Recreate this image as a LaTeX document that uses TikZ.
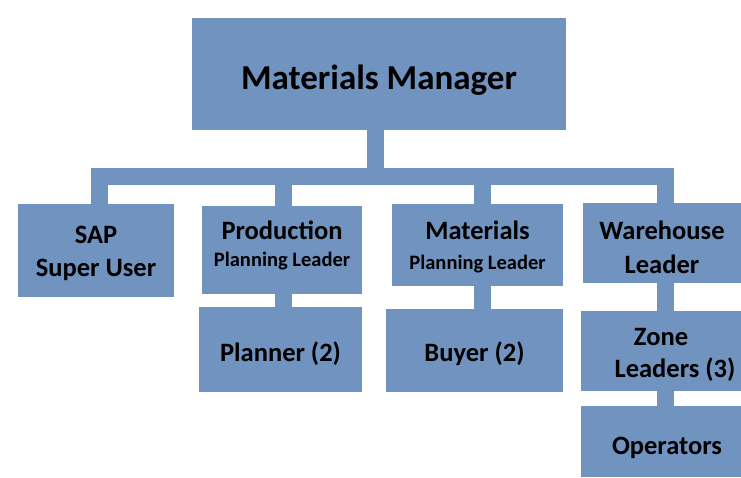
\documentclass[tikz,border=0pt]{standalone}
\usepackage{fontspec}
\setmainfont{Carlito}
\usetikzlibrary{backgrounds}
\definecolor{boxblue}{RGB}{112,147,191}
\tikzset{
  orgbox/.style={fill=boxblue, draw=none, inner sep=0pt, align=center, text=black,
    font=\bfseries\fontsize{26.5}{37}\selectfont},
  conn/.style={draw=boxblue, line width=17pt, line join=miter},
}
\newcommand{\smalltxt}[1]{{\fontsize{20.5}{24}\selectfont #1}}
\newcommand{\topstrut}[1]{\rule{0pt}{#1}}
\newcommand{\botstrut}[1]{\rule[-#1]{0pt}{#1}}
\begin{document}
\begin{tikzpicture}[x=1pt,y=1pt]
\useasboundingbox (0,0) rectangle (741,-477);
\node[orgbox, minimum width=374pt, minimum height=112pt, font=\bfseries\fontsize{35}{40}\selectfont, text height=30pt, text depth=0pt] (mm) at (379,-74) {Materials Manager};
\node[orgbox, minimum width=156pt, minimum height=93pt, font=\bfseries\fontsize{26.5}{33}\selectfont] (sap) at (96,-250.5) {\topstrut{22.5pt}SAP\\Super User};
\node[orgbox, minimum width=160pt, minimum height=88pt, font=\bfseries\fontsize{26.5}{27}\selectfont] (pp) at (282,-250) {Production\\\smalltxt{Planning Leader}\botstrut{12.3pt}};
\node[orgbox, minimum width=163pt, minimum height=85pt, text height=23pt, text depth=0pt] (pl) at (280.5,-349.5) {Planner (2)};
\node[orgbox, minimum width=171pt, minimum height=82pt, font=\bfseries\fontsize{26.5}{30}\selectfont] (mp) at (477.5,-245) {\topstrut{23pt}Materials\\\smalltxt{Planning Leader}};
\node[orgbox, minimum width=177pt, minimum height=83pt, text height=21pt, text depth=0pt] (buy) at (474.5,-350.5) {Buyer (2)};
\node[orgbox, minimum width=158pt, minimum height=80pt, font=\bfseries\fontsize{26.5}{34}\selectfont] (wh) at (662,-243) {\topstrut{28pt}Warehouse\\Leader};
\node[orgbox, minimum width=160pt, minimum height=80pt, font=\bfseries\fontsize{26.5}{32}\selectfont] (zone) at (661,-351) {\topstrut{25.5pt}Zone\\\hspace*{28pt}Leaders (3)};
\node[orgbox, minimum width=160pt, minimum height=71pt, text height=26.6pt, text depth=0pt] (ops) at (661,-441.5) {\hspace*{12pt}Operators};
\coordinate (bar) at (375.5,-176.5);
\begin{scope}[on background layer]
\fill[white] (0,0) rectangle (741,-477);
\draw[conn] ([xshift=3.5pt]sap.north) |- (bar) -| ([xshift=3.5pt]wh.north);
\draw[conn] ([xshift=-3.5pt]mm.south) -- ([xshift=-3.5pt]mm.south |- bar);
\draw[conn] ([xshift=1.5pt]pp.north) -- ([xshift=1.5pt]pp.north |- bar);
\draw[conn] ([xshift=5pt]mp.north) -- ([xshift=5pt]mp.north |- bar);
\draw[conn] ([xshift=1.5pt]pp.south) -- ([xshift=1.5pt]pp.south |- pl.north);
\draw[conn] ([xshift=5pt]mp.south) -- ([xshift=5pt]mp.south |- buy.north);
\draw[conn] ([xshift=3.5pt]wh.south) -- ([xshift=3.5pt]wh.south |- zone.north);
\draw[conn] ([xshift=4.5pt]zone.south) -- ([xshift=4.5pt]zone.south |- ops.north);
\end{scope}
\end{tikzpicture}
\end{document}
